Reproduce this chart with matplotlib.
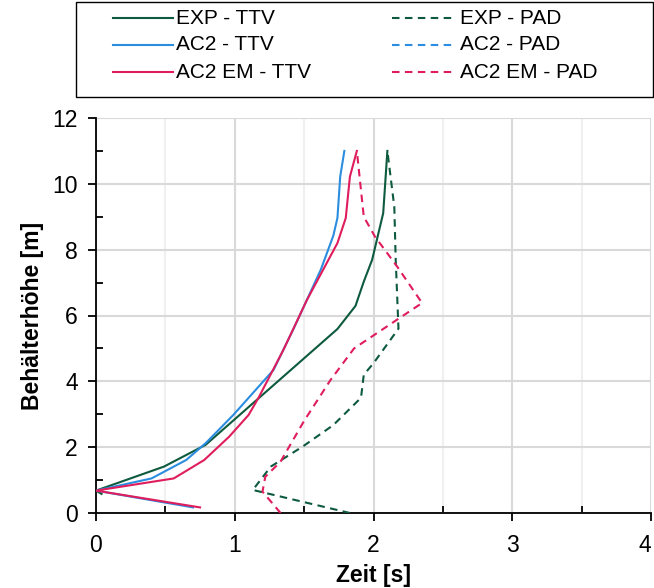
import matplotlib
matplotlib.use("Agg")
import matplotlib.pyplot as plt
from matplotlib.lines import Line2D
from matplotlib.patches import Rectangle
from matplotlib.ticker import MultipleLocator

plt.rcParams["font.family"] = ["Liberation Sans", "DejaVu Sans"]

# Zeit [s] / Behälterhöhe [m] per series
exp_ttv_t = [0.04, 0.0, 0.49, 0.79, 1.74, 1.87, 1.93, 1.99, 2.07, 2.10]
exp_ttv_h = [0.58, 0.68, 1.41, 2.07, 5.59, 6.29, 7.03, 7.69, 9.11, 11.0]

exp_pad_t = [1.83, 1.13, 1.26, 1.49, 1.71, 1.91, 1.93, 2.00, 2.18, 2.16, 2.15, 2.10]
exp_pad_h = [0.0, 0.70, 1.41, 2.02, 2.67, 3.50, 4.20, 4.55, 5.60, 7.70, 9.30, 11.0]

ac2_ttv_t = [0.70, 0.0, 0.40, 0.65, 0.79, 0.99, 1.28, 1.42, 1.62, 1.71, 1.74, 1.76, 1.79]
ac2_ttv_h = [0.17, 0.68, 1.05, 1.61, 2.12, 2.98, 4.35, 5.56, 7.39, 8.42, 8.96, 10.22, 11.0]

ac2_pad_t = []
ac2_pad_h = []

em_ttv_t = [0.75, 0.0, 0.56, 0.78, 0.96, 1.10, 1.17, 1.35, 1.52, 1.74, 1.80, 1.83, 1.88]
em_ttv_h = [0.17, 0.68, 1.05, 1.61, 2.32, 2.98, 3.49, 4.95, 6.47, 8.20, 8.96, 10.22, 11.0]

em_pad_t = [1.33, 1.20, 1.22, 1.33, 1.50, 1.69, 1.86, 2.35, 2.17, 2.01, 1.93, 1.91, 1.88]
em_pad_h = [0.0, 0.65, 1.10, 1.56, 2.80, 4.04, 5.00, 6.38, 7.49, 8.40, 9.00, 9.80, 11.0]

x_ticks = [0, 1, 2, 3, 4]

GREEN = "#0d5a3e"
BLUE = "#2b8de0"
RED = "#e01d5c"
DASH = (0, (3.6, 2.6))

W, H = 654, 588
fig = plt.figure(figsize=(W / 100, H / 100), dpi=100)
ax = fig.add_axes([96 / W, 1 - 513 / H, 555 / W, 395 / H])

series = [
    (exp_ttv_t, exp_ttv_h, GREEN, "-", "EXP - TTV"),
    (ac2_ttv_t, ac2_ttv_h, BLUE, "-", "AC2 - TTV"),
    (em_ttv_t, em_ttv_h, RED, "-", "AC2 EM - TTV"),
    (exp_pad_t, exp_pad_h, GREEN, DASH, "EXP - PAD"),
    (ac2_pad_t, ac2_pad_h, BLUE, DASH, "AC2 - PAD"),
    (em_pad_t, em_pad_h, RED, DASH, "AC2 EM - PAD"),
]
for t, h, c, ls, lab in series:
    ax.plot(t, h, color=c, linestyle=ls, linewidth=1.5, label=lab, zorder=3)

ax.set_xlim(0, 4)
ax.set_ylim(0, 12)
ax.set_xticks(x_ticks)
ax.xaxis.set_minor_locator(MultipleLocator(0.5))
ax.yaxis.set_major_locator(MultipleLocator(2))
ax.yaxis.set_minor_locator(MultipleLocator(1))
ax.tick_params(which="major", direction="out", length=6, width=1.3, labelsize=16.5, pad=7)
ax.tick_params(axis="x", which="major", pad=9)
ax.tick_params(which="minor", direction="in", length=5, width=1.3)
ax.grid(True, which="major", color="#d9d9d9", linewidth=1.5, zorder=0)
ax.grid(True, which="minor", axis="x", color="#f0f0f0", linewidth=1.5, zorder=0)
ax.set_axisbelow(True)
for s in ["top", "right"]:
    ax.spines[s].set_visible(False)
for s in ["left", "bottom"]:
    ax.spines[s].set_linewidth(1.3)

# keep the last x tick label inside the figure edge
ax.xaxis.get_major_ticks()[-1].label1.set_horizontalalignment("right")

ax.set_xlabel("Zeit [s]", fontsize=16.5, fontweight="bold", labelpad=5)
ax.set_ylabel("Behälterhöhe [m]", fontsize=16.5, fontweight="bold", labelpad=6)


# legend box drawn in pixel positions on the figure
def fx(px):
    return px / W


def fy(py):
    return 1 - py / H


fig.add_artist(Rectangle((fx(76), fy(97)), fx(653) - fx(76), fy(2) - fy(97),
                         transform=fig.transFigure, fill=False,
                         edgecolor="black", linewidth=1.0))
rows = [18, 45, 72]
for i, (t, h, c, ls, lab) in enumerate(series):
    col = i // 3
    y = rows[i % 3]
    x0, x1, xt = (113, 173, 176) if col == 0 else (392, 452, 460)
    fig.add_artist(Line2D([fx(x0), fx(x1)], [fy(y), fy(y)], transform=fig.transFigure,
                          color=c, linestyle=ls, linewidth=1.5))
    fig.text(fx(xt), fy(y), lab, fontsize=15, va="center", ha="left")

fig.savefig("out.png", dpi=100)
